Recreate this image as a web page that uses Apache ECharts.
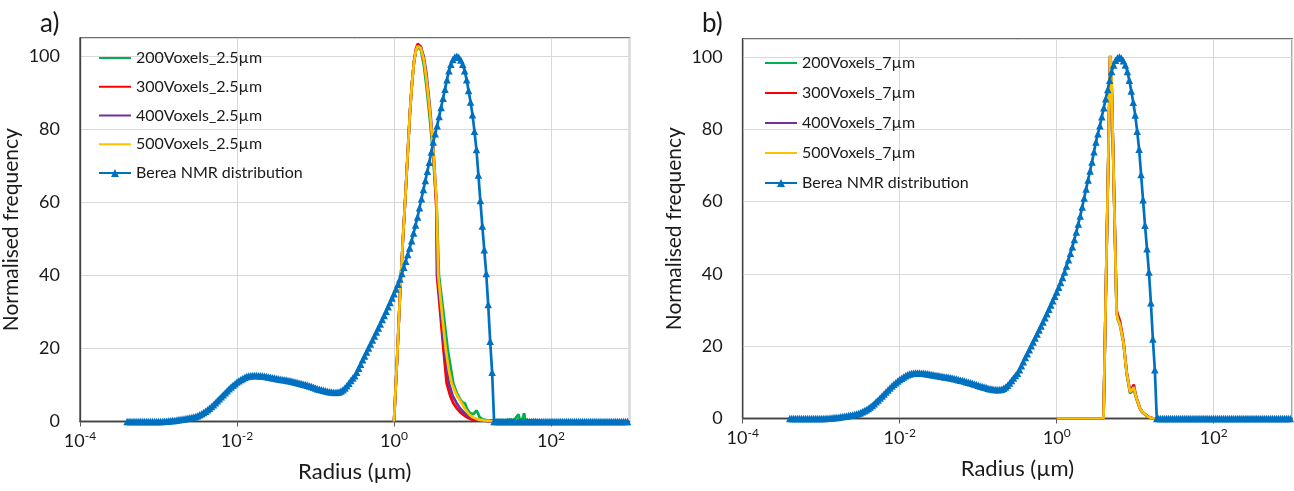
<!DOCTYPE html>
<html><head><meta charset="utf-8">
<script src="https://cdn.jsdelivr.net/npm/echarts@6/dist/echarts.min.js"></script>
<style>html,body{margin:0;padding:0;background:#fff}#c{width:1294px;height:491px}</style>
</head><body><div id="c"></div>
<script>
// Berea NMR distribution: log10(radius in µm) and normalised frequency
const nmrLogRadius = [
-3.4,-3.375,-3.35,-3.325,-3.3,-3.275,-3.25,-3.225,-3.2,-3.175,
-3.15,-3.125,-3.1,-3.075,-3.05,-3.025,-3,-2.975,-2.95,-2.925,
-2.9,-2.875,-2.85,-2.825,-2.8,-2.775,-2.75,-2.725,-2.7,-2.675,
-2.65,-2.625,-2.6,-2.575,-2.55,-2.525,-2.5,-2.475,-2.45,-2.425,
-2.4,-2.375,-2.35,-2.325,-2.3,-2.275,-2.25,-2.225,-2.2,-2.175,
-2.15,-2.125,-2.1,-2.075,-2.05,-2.025,-2,-1.975,-1.95,-1.925,
-1.9,-1.875,-1.85,-1.825,-1.8,-1.775,-1.75,-1.725,-1.7,-1.675,
-1.65,-1.625,-1.6,-1.575,-1.55,-1.525,-1.5,-1.475,-1.45,-1.425,
-1.4,-1.375,-1.35,-1.325,-1.3,-1.275,-1.25,-1.225,-1.2,-1.175,
-1.15,-1.125,-1.1,-1.075,-1.05,-1.025,-1,-0.975,-0.95,-0.925,
-0.9,-0.875,-0.85,-0.825,-0.8,-0.775,-0.75,-0.725,-0.7,-0.675,
-0.65,-0.625,-0.6,-0.575,-0.55,-0.525,-0.5,-0.475,-0.45,-0.425,
-0.4,-0.375,-0.35,-0.325,-0.3,-0.275,-0.25,-0.225,-0.2,-0.175,
-0.15,-0.125,-0.1,-0.075,-0.05,-0.025,0,0.025,0.05,0.075,
0.1,0.125,0.15,0.175,0.2,0.225,0.25,0.275,0.3,0.325,
0.35,0.375,0.4,0.425,0.45,0.475,0.5,0.525,0.55,0.575,
0.6,0.625,0.65,0.675,0.7,0.725,0.75,0.775,0.8,0.825,
0.85,0.875,0.9,0.925,0.95,0.975,1,1.025,1.05,1.075,
1.1,1.125,1.15,1.175,1.2,1.225,1.25,1.275,1.3,1.325,
1.35,1.375,1.4,1.425,1.45,1.475,1.5,1.525,1.55,1.575,
1.6,1.625,1.65,1.675,1.7,1.725,1.75,1.775,1.8,1.825,
1.85,1.875,1.9,1.925,1.95,1.975,2,2.025,2.05,2.075,
2.1,2.125,2.15,2.175,2.2,2.225,2.25,2.275,2.3,2.325,
2.35,2.375,2.4,2.425,2.45,2.475,2.5,2.525,2.55,2.575,
2.6,2.625,2.65,2.675,2.7,2.725,2.75,2.775,2.8,2.825,
2.85,2.875,2.9,2.925,2.95,2.975];
const nmrFrequency = [
0,0,0,0,0,0,0,0,0,0,
0,0,0,0,0,0,0,0,0,0.05,
0.1,0.15,0.2,0.25,0.3,0.37,0.45,0.52,0.6,0.7,
0.8,0.9,1.0,1.1,1.25,1.4,1.6,1.85,2.15,2.45,
2.8,3.2,3.6,4.1,4.6,5.15,5.7,6.25,6.8,7.35,
7.9,8.45,9.0,9.45,9.9,10.35,10.8,11.15,11.5,11.8,
12.1,12.3,12.45,12.55,12.6,12.6,12.6,12.55,12.5,12.45,
12.4,12.3,12.2,12.1,12.0,11.9,11.8,11.7,11.6,11.5,
11.45,11.35,11.25,11.15,11.0,10.9,10.75,10.6,10.5,10.35,
10.2,10.05,9.9,9.75,9.55,9.4,9.2,9.0,8.85,8.7,
8.55,8.4,8.25,8.15,8.05,8.0,7.95,8.0,8.1,8.35,
8.7,9.2,9.8,10.5,11.2,11.9,12.5,13.5,14.6,15.7,
16.9,17.9,19.0,20.1,21.2,22.3,23.4,24.5,25.6,26.7,
27.9,29.0,30.2,31.4,32.6,33.8,35.0,36.3,37.6,39.0,
40.5,42.2,43.9,45.7,47.5,49.5,51.6,53.8,56.0,58.5,
61.0,63.5,66.0,68.5,71.0,73.8,76.5,78.8,81.0,83.5,
86.0,88.5,91.0,93.6,96.0,97.8,99.1,99.8,100,99.7,
99.0,97.8,96.0,93.6,90.6,87.5,84.0,79.5,74.5,67.5,
60.5,53.5,47.0,40.5,32.0,22.0,13.5,0,0,0,
0,0,0,0,0,0,0,0,0,0,
0,0,0,0,0,0,0,0,0,0,
0,0,0,0,0,0,0,0,0,0,
0,0,0,0,0,0,0,0,0,0,
0,0,0,0,0,0,0,0,0,0,
0,0,0,0,0,0,0,0,0,0,
0,0,0,0,0,0];

// Panel a: [radius µm, normalised frequency]
const vox200_25 = [[1,0],[1.1,18],[1.2,36],[1.3,50],[1.4,62],[1.5,74],[1.6,85],[1.7,93],[1.8,98.5],[1.9,101.5],[2,102.6],[2.1,102.6],[2.2,101.8],[2.4,97.5],[2.6,91.5],[2.87,82.5],[3.16,72.5],[3.3,66],[3.5,59],[3.74,40],[4.2,31],[4.82,20],[5.69,10.5],[6.3,7.8],[7,6],[7.5,5.2],[8,5],[8.5,3.5],[9.3,2.3],[10.2,2],[11.3,3],[12.3,1.2],[13.5,0.6],[15,0.4],[18,0.3],[22,0.4],[26,0.3],[30,0.5],[34,0.4],[36,0.8],[38.5,2],[40,0.5],[43,0.6],[45.5,2.3],[47,0.5],[51,0.4],[56,0.3],[62,0.4],[70,0.2],[80,0]];
const vox300_25 = [[1,0],[1.1,18],[1.2,36],[1.3,50],[1.4,62],[1.5,74],[1.6,85],[1.7,93],[1.8,98.8],[1.9,102],[2,103.4],[2.1,103.6],[2.2,102.6],[2.4,99],[2.6,93.5],[2.87,84.5],[3.16,74],[3.3,67],[3.47,58],[3.52,40],[3.8,32],[4,26.5],[4.25,20],[4.68,10.5],[5.2,7],[5.69,5],[6.3,3.6],[7,2.5],[8,1.5],[9,0.9],[10,0.5],[12,0.3],[14,0.2],[17,0],[80,0]];
const vox400_25 = [[1,0],[1.1,18],[1.2,36],[1.3,50],[1.4,62],[1.5,74],[1.6,85],[1.7,93],[1.8,98.5],[1.9,101.5],[2,102.8],[2.1,103],[2.2,102.5],[2.4,99.8],[2.6,95],[2.87,86],[3.16,75.5],[3.3,68.5],[3.48,60],[3.58,40],[3.9,31.5],[4.38,20],[5,10.5],[5.6,7],[6.28,5],[7,3.5],[8,2.2],[9,1.4],[10,0.9],[12,0.4],[14,0.2],[17,0],[80,0]];
const vox500_25 = [[1,0],[1.1,18],[1.2,36],[1.3,50],[1.4,62],[1.5,74],[1.6,85],[1.7,93],[1.8,98.5],[1.9,101.5],[2,102.8],[2.1,103],[2.2,102.2],[2.4,99],[2.6,93.5],[2.87,84.7],[3.16,74.6],[3.3,68],[3.49,60],[3.66,40],[3.98,32],[4.3,25],[4.55,20],[5,14],[5.42,10.5],[6,8.2],[6.5,6.7],[7.3,5],[8,3.5],[9,2],[10,1.2],[11,0.8],[12,0.5],[14,0.3],[17,0.1],[20,0],[80,0]];

// Panel b
const vox200_7 = [[1,0],[2,0],[3,0],[3.95,0],[4.8,100.2],[4.95,97.8],[5.8,29],[6,27.3],[6.4,25.8],[7.08,20.8],[7.8,12.2],[8.6,7],[9,6.5],[9.6,8.1],[10.1,6.2],[10.5,5.1],[11.5,2.7],[12.3,1.7],[14.6,0.5],[17,0],[50,0]];
const vox300_7 = [[1,0],[2,0],[3,0],[3.95,0],[4.8,100.2],[4.95,97.8],[5.8,30],[6,28.8],[6.4,27],[7.08,21.5],[7.8,12.8],[8.6,7.5],[9,7.2],[9.6,9.4],[10.1,6.8],[10.5,5.4],[11.5,2.9],[12.3,1.8],[14.6,0.5],[17,0],[50,0]];
const vox400_7 = [[1,0],[2,0],[3,0],[3.95,0],[4.8,100.3],[4.95,97.9],[5.8,29.5],[6,28],[6.4,26.3],[7.08,21.2],[7.8,12.6],[8.6,7.3],[9,7],[9.6,8.8],[10.1,6.6],[10.5,5.3],[11.5,2.8],[12.3,1.8],[14.6,0.5],[17,0],[50,0]];
const vox500_7 = [[1,0],[2,0],[3,0],[3.95,0],[4.8,100.5],[4.95,98],[5.8,29],[6,27.5],[6.4,26],[7.08,21],[7.8,12.5],[8.6,7.3],[9,7],[9.6,8.6],[10.1,6.5],[10.5,5.3],[11.5,2.8],[12.3,1.8],[14.6,0.5],[17,0],[50,0]];

const xLabelExponents = [-4, -2, 0, 2];
const yTicks = [0, 20, 40, 60, 80, 100];
const namesA = ['200Voxels_2.5µm','300Voxels_2.5µm','400Voxels_2.5µm','500Voxels_2.5µm','Berea NMR distribution'];
const namesB = ['200Voxels_7µm','300Voxels_7µm','400Voxels_7µm','500Voxels_7µm','Berea NMR distribution'];
const simColors = ['#00B050','#FF0000','#7030A0','#FFC000'];
const nmrColor = '#0070C0';

const FONT = 'Lato';
const nmrData = nmrLogRadius.map((e, i) => [Math.pow(10, e), nmrFrequency[i]]);

function xAxisCfg(gi) {
  return {
    type: 'log', logBase: 10, gridIndex: gi, min: 1e-4, max: 1e3, interval: 2, splitNumber: 3,
    name: 'Radius (µm)', nameLocation: 'middle', nameGap: 39,
    nameTextStyle: {fontFamily: FONT, fontSize: 22, color: '#1a1a1a'},
    axisLine: {show: true, lineStyle: {color: '#404040', width: 1.3}},
    axisTick: {show: true, length: 5, lineStyle: {color: '#595959'}},
    minorTick: {show: false},
    splitLine: {show: true, lineStyle: {color: '#d9d9d9', width: 1}},
    axisLabel: {
      margin: 9, showMaxLabel: false,
      formatter: v => {
        const e = Math.round(Math.log10(v));
        return xLabelExponents.includes(e) ? '{b|10}{s|' + e + '}' : '';
      },
      rich: {
        b: {fontFamily: FONT, fontSize: 18, color: '#1a1a1a'},
        s: {fontFamily: FONT, fontSize: 12, color: '#1a1a1a', padding: [0, 0, 10, 0]}
      }
    }
  };
}
function yAxisCfg(gi) {
  return {
    type: 'value', gridIndex: gi, min: 0, max: 105, interval: 20,
    name: 'Normalised frequency', nameLocation: 'middle', nameGap: 58,
    nameTextStyle: {fontFamily: FONT, fontSize: 21, color: '#1a1a1a'},
    axisLine: {show: true, lineStyle: {color: '#404040', width: 1.3}},
    axisTick: {show: false},
    splitLine: {show: true, lineStyle: {color: '#d9d9d9', width: 1}},
    axisLabel: {
      margin: 20, showMaxLabel: false, fontFamily: FONT, fontSize: 18, color: '#1a1a1a',
      formatter: v => (yTicks.includes(v) ? String(v) : '')
    }
  };
}
function simSeries(name, data, color, gi) {
  return {
    type: 'line', name, data, xAxisIndex: gi, yAxisIndex: gi,
    symbol: 'none', smooth: false, color,
    lineStyle: {color, width: 2.7}
  };
}
function nmrSeries(gi) {
  return {
    type: 'line', name: 'Berea NMR distribution', data: nmrData, xAxisIndex: gi, yAxisIndex: gi,
    symbol: 'triangle', symbolSize: 7.5, showSymbol: true, showAllSymbol: true, color: nmrColor,
    itemStyle: {color: nmrColor}, lineStyle: {color: nmrColor, width: 2.7}
  };
}
function legendCfg(left, top, gap, names) {
  return {
    orient: 'vertical', left, top, itemWidth: 32, itemHeight: 10, itemGap: gap,
    textStyle: {fontFamily: FONT, fontSize: 16, color: '#1a1a1a', lineHeight: 20},
    data: names.map((n, i) => i < 4 ? {name: n, itemStyle: {opacity: 0}} : {name: n})
  };
}

const simA = [vox200_25, vox300_25, vox400_25, vox500_25];
const simB = [vox200_7, vox300_7, vox400_7, vox500_7];

const chart = echarts.init(document.getElementById('c'), null, {renderer: 'canvas'});
chart.setOption({
  animation: false,
  backgroundColor: '#fff',
  title: [
    {text: 'a)', left: 35, top: 6, textStyle: {fontFamily: FONT, fontSize: 26, fontWeight: 'normal', color: '#1a1a1a'}},
    {text: 'b)', left: 697, top: 6, textStyle: {fontFamily: FONT, fontSize: 26, fontWeight: 'normal', color: '#1a1a1a'}}
  ],
  grid: [
    {left: 80, top: 38, width: 549.5, height: 383.5, show: true, borderColor: '#404040', borderWidth: 1.3, containLabel: false},
    {left: 742.7, top: 39, width: 549.5, height: 379.5, show: true, borderColor: '#404040', borderWidth: 1.3, containLabel: false}
  ],
  xAxis: [xAxisCfg(0), xAxisCfg(1)],
  yAxis: [yAxisCfg(0), yAxisCfg(1)],
  legend: [legendCfg(93, 43, 8.75, namesA), legendCfg(759, 48, 10, namesB)],
  series: [
    ...simA.map((d, i) => simSeries(namesA[i], d, simColors[i], 0)),
    nmrSeries(0),
    ...simB.map((d, i) => simSeries(namesB[i], d, simColors[i], 1)),
    nmrSeries(1)
  ]
});
</script>
</body></html>
